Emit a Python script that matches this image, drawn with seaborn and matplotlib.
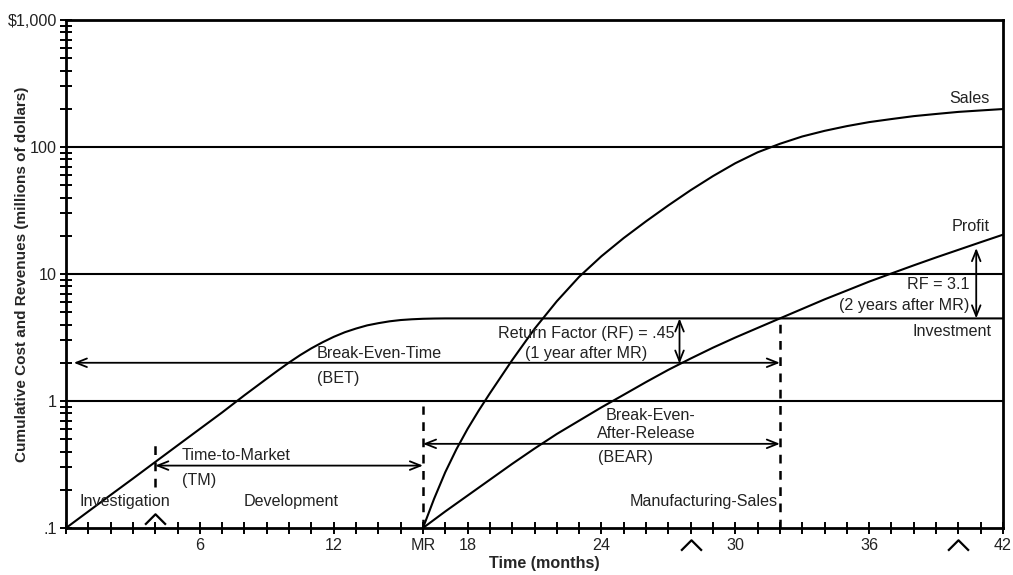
import matplotlib
matplotlib.use("Agg")
import matplotlib.pyplot as plt
import numpy as np
import pandas as pd
import seaborn as sns

# ---- curve data (months, millions of dollars) ----
inv_months = [0, 1, 2, 3, 4, 5, 6, 7, 8, 9, 9.5, 10, 10.5, 11, 11.5, 12, 12.5, 13,
              13.5, 14, 14.5, 15, 15.5, 16, 16.5, 17, 42]
investment = [0.100, 0.135, 0.182, 0.245, 0.331, 0.447, 0.603, 0.813, 1.11, 1.50,
              1.74, 2.01, 2.30, 2.60, 2.90, 3.20, 3.48, 3.72, 3.94, 4.10, 4.24,
              4.34, 4.40, 4.44, 4.46, 4.47, 4.47]

sales_months = [16, 16.5, 17, 17.5, 18, 18.5, 19, 20, 21, 22, 23, 24, 25, 26, 27, 28,
                29, 30, 31, 32, 33, 34, 35, 36, 37, 38, 39, 40, 41, 42]
sales = [0.100, 0.170, 0.275, 0.417, 0.603, 0.841, 1.15, 2.10, 3.70, 6.10, 9.50, 13.8,
         19.2, 26.0, 34.7, 45.7, 59.0, 74.5, 90.8, 106, 121, 134, 146, 157, 166, 175,
         182, 189, 194, 199]

profit_months = [16, 17, 18, 19, 20, 21, 22, 23, 24, 25, 26, 27, 28, 29, 30, 31, 32,
                 33, 34, 35, 36, 37, 38, 39, 40, 41, 42]
profit = [0.100, 0.135, 0.180, 0.240, 0.320, 0.422, 0.550, 0.700, 0.891, 1.12, 1.41,
          1.76, 2.16, 2.63, 3.16, 3.76, 4.47, 5.31, 6.31, 7.41, 8.71, 10.1, 11.7, 13.5,
          15.5, 17.8, 20.4]

# ---- milestones and measures ----
start_month = 4          # end of investigation
release_month = 16       # MR
break_even_month = 32
investment_total = 4.47
bet_level = 2.0
tm_level = 0.31
bear_level = 0.46
rf1_month, rf1_low = 27.5, 1.97
rf2_month, rf2_high = 40.8, 16.0
release_marks_inside = [4]
release_marks_below = [28, 40]

# ---- axis labels ----
x_tick_pos = list(range(0, 43))
x_tick_text = {6: "6", 12: "12", 16: "MR", 18: "18", 24: "24", 30: "30", 36: "36", 42: "42"}
y_major = [0.1, 1, 10, 100, 1000]
y_major_text = [".1", "1", "10", "100", "$1,000"]

sns.set_theme(style="ticks")
plt.rcParams["font.family"] = ["Liberation Sans", "DejaVu Sans"]
FS = 11.6

fig, ax = plt.subplots(figsize=(10.13, 5.75), dpi=100)
fig.subplots_adjust(left=66 / 1013, right=1003 / 1013, top=1 - 20 / 575, bottom=1 - 528 / 575)

ax.set_yscale("log")
ax.set_xlim(0, 42)
ax.set_ylim(0.1, 1000)

# decade reference lines
for lvl in [1, 10, 100]:
    ax.axhline(lvl, color="black", lw=1.5, zorder=1)

line_kw = dict(color="black", linewidth=1.5, zorder=3)
sns.lineplot(x=inv_months, y=investment, ax=ax, **line_kw)
sns.lineplot(x=sales_months, y=sales, ax=ax, **line_kw)
sns.lineplot(x=profit_months, y=profit, ax=ax, **line_kw)

# dashed milestone markers
dash = dict(color="black", lw=1.8, ls=(0, (3.5, 3)), zorder=2)
ax.plot([start_month, start_month], [0.21, 0.45], **dash)
ax.plot([release_month, release_month], [0.1, 0.92], **dash)
ax.plot([break_even_month, break_even_month], [0.1, investment_total], **dash)

# span arrows
arrow = dict(arrowstyle="<->,head_length=0.55,head_width=0.22", color="black",
             lw=1.3, shrinkA=0, shrinkB=0, mutation_scale=14)
ax.annotate("", xy=(0.35, bet_level), xytext=(break_even_month, bet_level), arrowprops=arrow)
ax.annotate("", xy=(start_month, tm_level), xytext=(release_month, tm_level), arrowprops=arrow)
ax.annotate("", xy=(release_month, bear_level), xytext=(break_even_month, bear_level), arrowprops=arrow)
ax.annotate("", xy=(rf1_month, rf1_low), xytext=(rf1_month, investment_total), arrowprops=arrow)
ax.annotate("", xy=(rf2_month, investment_total), xytext=(rf2_month, rf2_high), arrowprops=arrow)

# release chevrons
chevron = [(-1, -0.5), (0, 0.5), (1, -0.5)]
ax.plot(release_marks_inside, [0.118] * len(release_marks_inside), ls="none",
        marker=chevron, ms=15, mfc="none", mec="black", mew=1.6)
ax.plot(release_marks_below, [0.0736] * len(release_marks_below), ls="none",
        marker=chevron, ms=15, mfc="none", mec="black", mew=1.6, clip_on=False)

# text labels
t = dict(fontsize=FS, color="#222222")
ax.text(41.4, 240, "Sales", ha="right", va="center", **t)
ax.text(41.4, 23.8, "Profit", ha="right", va="center", **t)
ax.text(40.5, 8.3, "RF = 3.1", ha="right", va="center", **t)
ax.text(40.5, 5.6, "(2 years after MR)", ha="right", va="center", **t)
ax.text(41.5, 3.5, "Investment", ha="right", va="center", **t)
ax.text(23.3, 3.39, "Return Factor (RF) = .45", ha="center", va="center", **t)
ax.text(23.3, 2.36, "(1 year after MR)", ha="center", va="center", **t)
ax.text(11.25, 2.36, "Break-Even-Time", ha="left", va="center", **t)
ax.text(11.25, 1.5, "(BET)", ha="left", va="center", **t)
ax.text(26.2, 0.77, "Break-Even-", ha="center", va="center", **t)
ax.text(26.0, 0.556, "After-Release", ha="center", va="center", **t)
ax.text(23.85, 0.36, "(BEAR)", ha="left", va="center", **t)
ax.text(5.2, 0.374, "Time-to-Market", ha="left", va="center", **t)
ax.text(5.2, 0.238, "(TM)", ha="left", va="center", **t)
ax.text(0.6, 0.162, "Investigation", ha="left", va="center", **t)
ax.text(10.1, 0.162, "Development", ha="center", va="center", **t)
ax.text(31.9, 0.162, "Manufacturing-Sales", ha="right", va="center", **t)

# ticks
ax.set_xticks(x_tick_pos)
ax.set_xticklabels([x_tick_text.get(p, "") for p in x_tick_pos])
ax.set_yticks(y_major)
ax.set_yticklabels(y_major_text)
ax.yaxis.set_minor_locator(matplotlib.ticker.LogLocator(base=10, subs=np.arange(2, 10)))
ax.yaxis.set_minor_formatter(matplotlib.ticker.NullFormatter())
ax.tick_params(axis="both", which="both", direction="inout", length=9, width=1.4,
               color="black", labelsize=FS, labelcolor="#222222")
ax.tick_params(axis="x", pad=3)
ax.tick_params(axis="y", pad=2)

for s in ax.spines.values():
    s.set_visible(True)
    s.set_linewidth(2)
    s.set_color("black")

ax.set_xlabel("Time (months)", fontsize=FS, fontweight="bold")
ax.xaxis.set_label_coords(0.511, -0.055)
ax.set_ylabel("Cumulative Cost and Revenues (millions of dollars)", fontsize=11,
              fontweight="bold")
ax.yaxis.set_label_coords(-0.040, 0.5)

fig.savefig("out.png", dpi=100)
